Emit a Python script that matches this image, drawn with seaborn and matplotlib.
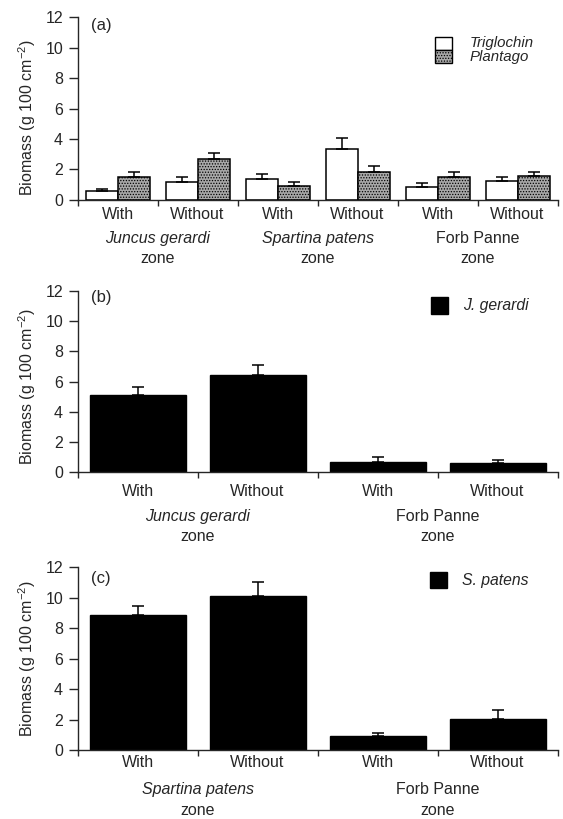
import numpy as np
import pandas as pd
import matplotlib
matplotlib.use("Agg")
import matplotlib.pyplot as plt
from matplotlib.patches import Rectangle
import seaborn as sns

# ---------------------------------------------------------------- data
treatments = ["With", "Without"]

# (a) Triglochin and Plantago biomass in three zones (mean and upper SE)
zones_a = ["Juncus gerardi", "Spartina patens", "Forb Panne"]
triglochin_mean = [0.59, 1.15, 1.35, 3.35, 0.85, 1.22]
triglochin_se = [0.13, 0.35, 0.35, 0.71, 0.26, 0.28]
plantago_mean = [1.48, 2.67, 0.89, 1.80, 1.50, 1.58]
plantago_se = [0.34, 0.43, 0.26, 0.40, 0.30, 0.24]

# (b) Juncus gerardi biomass
zones_b = ["Juncus gerardi", "Forb Panne"]
gerardi_mean = [5.14, 6.46, 0.68, 0.64]
gerardi_se = [0.53, 0.64, 0.37, 0.17]

# (c) Spartina patens biomass
zones_c = ["Spartina patens", "Forb Panne"]
patens_mean = [8.85, 10.12, 0.92, 2.01]
patens_se = [0.61, 0.92, 0.20, 0.62]

yticks = [0, 2, 4, 6, 8, 10, 12]
ylabel = "Biomass (g 100 cm$^{-2}$)"

# ---------------------------------------------------------------- style
sns.set_style("ticks")
plt.rcParams["font.family"] = ["Liberation Sans", "DejaVu Sans"]
plt.rcParams["mathtext.fontset"] = "custom"
plt.rcParams["mathtext.rm"] = "Liberation Sans"
plt.rcParams["mathtext.it"] = "Liberation Sans:italic"
plt.rcParams["mathtext.bf"] = "Liberation Sans:bold"
plt.rcParams["hatch.color"] = "#3c3c3c"
plt.rcParams["hatch.linewidth"] = 0.6

W, H = 563, 819
FS = 11.5
LW = 1.0
GREY = "#a8a8a8"

fig = plt.figure(figsize=(W / 100, H / 100), dpi=100)


def axes_rect(top, bottom, left=77.5, right=557.5):
    return [left / W, 1 - bottom / H, (right - left) / W, (bottom - top) / H]


def cells(zones):
    return [f"{z}|{t}" for z in zones for t in treatments]


def add_errorbars(ax, container, se):
    xs = [p.get_x() + p.get_width() / 2 for p in container]
    tops = [p.get_height() for p in container]
    ax.errorbar(xs, tops, yerr=[np.zeros(len(se)), se], fmt="none",
                ecolor="black", elinewidth=1.1, capsize=4, capthick=1.1,
                zorder=4)


def style_axes(ax, zones, letter, letter_off, tick_pad, zone_offs, ylab_y):
    n = 2 * len(zones)
    ax.set_xlim(-0.5, n - 0.5)
    ax.set_ylim(0, 12)
    ax.set_yticks(yticks)
    ax.set_xticks(range(n))
    ax.set_xticklabels(treatments * len(zones))
    ax.set_xticks(np.arange(-0.5, n, 1.0), minor=True)
    ax.set_xlabel("")
    sns.despine(ax=ax)
    for s in ("left", "bottom"):
        ax.spines[s].set_linewidth(LW)
    ax.tick_params(axis="x", which="major", length=0, pad=tick_pad,
                   labelsize=FS)
    ax.tick_params(axis="x", which="minor", length=4, width=LW,
                   direction="out")
    ax.tick_params(axis="y", which="major", length=6.8, width=LW, pad=3.6,
                   labelsize=FS, direction="out")
    for lab in ax.get_xticklabels():
        lab.set_va("center")
    ax.set_ylabel(ylabel, fontsize=FS, va="center")
    ax.yaxis.set_label_coords(-50 / 480, ylab_y)
    for i, zone in enumerate(zones):
        style = "normal" if zone == "Forb Panne" else "italic"
        for txt, off, st in ((zone, zone_offs[0], style),
                             ("zone", zone_offs[1], "normal")):
            ax.annotate(txt, xy=(2 * i + 0.5, 0),
                        xycoords=("data", "axes fraction"),
                        xytext=(0, -off), textcoords="offset points",
                        ha="center", va="center", fontsize=FS, style=st)
    ax.annotate(letter, xy=(0.028, 1), xycoords="axes fraction",
                xytext=(0, -letter_off), textcoords="offset points",
                ha="left", va="center", fontsize=12)


def fig_box(x0, y0, x1, y1, fc, hatch=None):
    r = Rectangle((x0 / W, 1 - y1 / H), (x1 - x0) / W, (y1 - y0) / H,
                  transform=fig.transFigure, facecolor=fc, edgecolor="black",
                  linewidth=1.0, hatch=hatch)
    fig.add_artist(r)


def fig_label(x, y, text, size=11.3):
    fig.text(x / W, 1 - y / H, text, ha="left", va="center",
             fontsize=size, style="italic")


# ---------------------------------------------------------------- panel (a)
ax_a = fig.add_axes(axes_rect(17.3, 199.8))
cells_a = cells(zones_a)
df_a = pd.DataFrame({
    "cell": cells_a * 2,
    "species": ["Triglochin"] * 6 + ["Plantago"] * 6,
    "biomass": triglochin_mean + plantago_mean,
})
sns.barplot(data=df_a, x="cell", y="biomass", hue="species",
            order=cells_a, hue_order=["Triglochin", "Plantago"],
            palette={"Triglochin": "white", "Plantago": GREY},
            saturation=1, edgecolor="black", linewidth=1.1,
            errorbar=None, legend=False, width=0.8, ax=ax_a)
for p in ax_a.containers[1]:
    p.set_hatch("......")
add_errorbars(ax_a, ax_a.containers[0], triglochin_se)
add_errorbars(ax_a, ax_a.containers[1], plantago_se)
style_axes(ax_a, zones_a, "(a)", 5.8, 10.8, (27.6, 42.0), 0.45)

fig_box(435, 36.7, 451.7, 50.0, "white")
fig_box(435, 50.0, 451.7, 63.3, GREY, hatch="......")
fig_label(469.3, 42.6, "Triglochin", size=10.8)
fig_label(469.3, 57.2, "Plantago", size=10.8)

# ---------------------------------------------------------------- panel (b)
ax_b = fig.add_axes(axes_rect(290.7, 472.5))
cells_b = cells(zones_b)
df_b = pd.DataFrame({"cell": cells_b, "biomass": gerardi_mean})
sns.barplot(data=df_b, x="cell", y="biomass", order=cells_b,
            color="black", saturation=1, edgecolor="black", linewidth=1.0,
            errorbar=None, width=0.8, ax=ax_b)
add_errorbars(ax_b, ax_b.containers[0], gerardi_se)
style_axes(ax_b, zones_b, "(b)", 5.0, 13.8, (31.8, 46.2), 0.47)

fig_box(430.7, 297.3, 447.7, 314.0, "black")
fig_label(462.7, 305.7, "J. gerardi")

# ---------------------------------------------------------------- panel (c)
ax_c = fig.add_axes(axes_rect(567.3, 750.0))
cells_c = cells(zones_c)
df_c = pd.DataFrame({"cell": cells_c, "biomass": patens_mean})
sns.barplot(data=df_c, x="cell", y="biomass", order=cells_c,
            color="black", saturation=1, edgecolor="black", linewidth=1.0,
            errorbar=None, width=0.8, ax=ax_c)
add_errorbars(ax_c, ax_c.containers[0], patens_se)
style_axes(ax_c, zones_c, "(c)", 7.9, 9.1, (28.3, 43.7), 0.50)

fig_box(430.0, 572.3, 446.7, 588.3, "black")
fig_label(462.0, 580.3, "S. patens")

fig.savefig("out.png", dpi=100)
